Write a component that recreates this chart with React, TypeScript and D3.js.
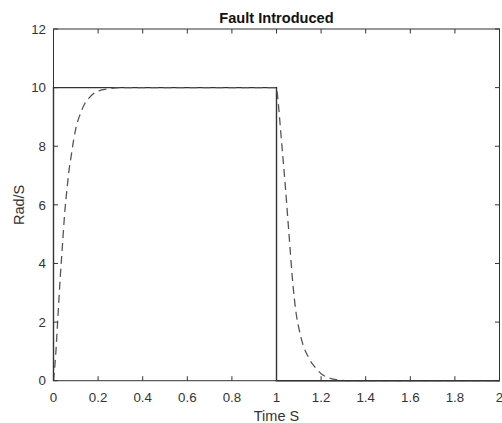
import React from "react";
import * as d3 from "d3";

const W = 502;
const H = 423;

// Reference (solid) step signal
const refTime = [0, 0, 1, 1, 2];
const refValue = [0, 10, 10, 0, 0];

// Response (dashed) signal
const respTime = [
  0, 0.01, 0.02, 0.03, 0.04, 0.05, 0.06, 0.07, 0.08, 0.09, 0.1, 0.12, 0.14, 0.16, 0.18, 0.2, 0.25, 0.3, 0.35, 0.5, 0.8,
  1.0, 1.005, 1.01, 1.02, 1.03, 1.04, 1.05, 1.06, 1.07, 1.08, 1.09, 1.1, 1.12, 1.14, 1.16, 1.18, 1.2, 1.22, 1.25, 1.28, 1.32, 1.6, 2.0,
];
const respValue = [
  0, 0.9, 2.2, 3.5, 4.6, 5.7, 6.5, 7.2, 7.7, 8.2, 8.6, 9.1, 9.45, 9.65, 9.8, 9.88, 9.96, 10, 10, 10, 10,
  10, 9.7, 9.3, 8.4, 7.5, 6.6, 5.6, 4.6, 3.6, 2.8, 2.2, 1.8, 1.2, 0.85, 0.58, 0.4, 0.24, 0.14, 0.06, 0.02, 0, 0, 0,
];

const xTicks = [0, 0.2, 0.4, 0.6, 0.8, 1, 1.2, 1.4, 1.6, 1.8, 2];
const yTicks = [0, 2, 4, 6, 8, 10, 12];

const titleText = "Fault Introduced";
const xLabel = "Time S";
const yLabel = "Rad/S";

export default function App() {
  const left = 53.5;
  const right = 499.5;
  const top = 29;
  const bottom = 380.7;

  const x = d3.scaleLinear().domain([0, 2]).range([left, right]);
  const y = d3.scaleLinear().domain([0, 12]).range([bottom, top]);

  const refLine = d3
    .line<number>()
    .x((_, i) => x(refTime[i]))
    .y((d) => y(d));
  const respLine = d3
    .line<number>()
    .x((_, i) => x(respTime[i]))
    .y((d) => y(d))
    .curve(d3.curveMonotoneX);

  const font = "'Liberation Sans', Arial, Helvetica, sans-serif";
  const axisColor = "#333";
  const textColor = "#333";
  const tickLen = 4.5;

  return (
    <svg
      width={W}
      height={H}
      style={{ position: "absolute", left: 0, top: 0, background: "#fff" }}
      fontFamily={font}
    >
      <rect x={0} y={0} width={W} height={H} fill="#fff" />
      {/* data lines */}
      <path d={refLine(refValue) || ""} fill="none" stroke="#333" strokeWidth={1.4} />
      <path
        d={respLine(respValue) || ""}
        fill="none"
        stroke="#555"
        strokeWidth={1.3}
        strokeDasharray="8 5"
      />
      {/* box */}
      <rect
        x={left}
        y={top}
        width={right - left}
        height={bottom - top}
        fill="none"
        stroke={axisColor}
        strokeWidth={1}
      />
      {/* x ticks */}
      {xTicks.map((t) => (
        <g key={"x" + t}>
          <line x1={x(t)} x2={x(t)} y1={bottom} y2={bottom - tickLen} stroke={axisColor} />
          <line x1={x(t)} x2={x(t)} y1={top} y2={top + tickLen} stroke={axisColor} />
          <text
            x={x(t)}
            y={401.5}
            textAnchor="middle"
            fontSize={13.3}
            fill={textColor}
          >
            {String(t)}
          </text>
        </g>
      ))}
      {/* y ticks */}
      {yTicks.map((t) => (
        <g key={"y" + t}>
          <line x1={left} x2={left + tickLen} y1={y(t)} y2={y(t)} stroke={axisColor} />
          <line x1={right} x2={right - tickLen} y1={y(t)} y2={y(t)} stroke={axisColor} />
          <text
            x={46}
            y={y(t)}
            dy="0.36em"
            textAnchor="end"
            fontSize={13.3}
            fill={textColor}
          >
            {String(t)}
          </text>
        </g>
      ))}
      {/* title */}
      <text
        x={(left + right) / 2}
        y={23}
        textAnchor="middle"
        fontSize={14.6}
        fontWeight="bold"
        fill="#111"
      >
        {titleText}
      </text>
      {/* x label */}
      <text x={(left + right) / 2} y={421} textAnchor="middle" fontSize={14.5} fill={textColor}>
        {xLabel}
      </text>
      {/* y label */}
      <text
        transform={`translate(23.5, ${(top + bottom) / 2}) rotate(-90)`}
        textAnchor="middle"
        fontSize={14.5}
        fill={textColor}
      >
        {yLabel}
      </text>
    </svg>
  );
}
